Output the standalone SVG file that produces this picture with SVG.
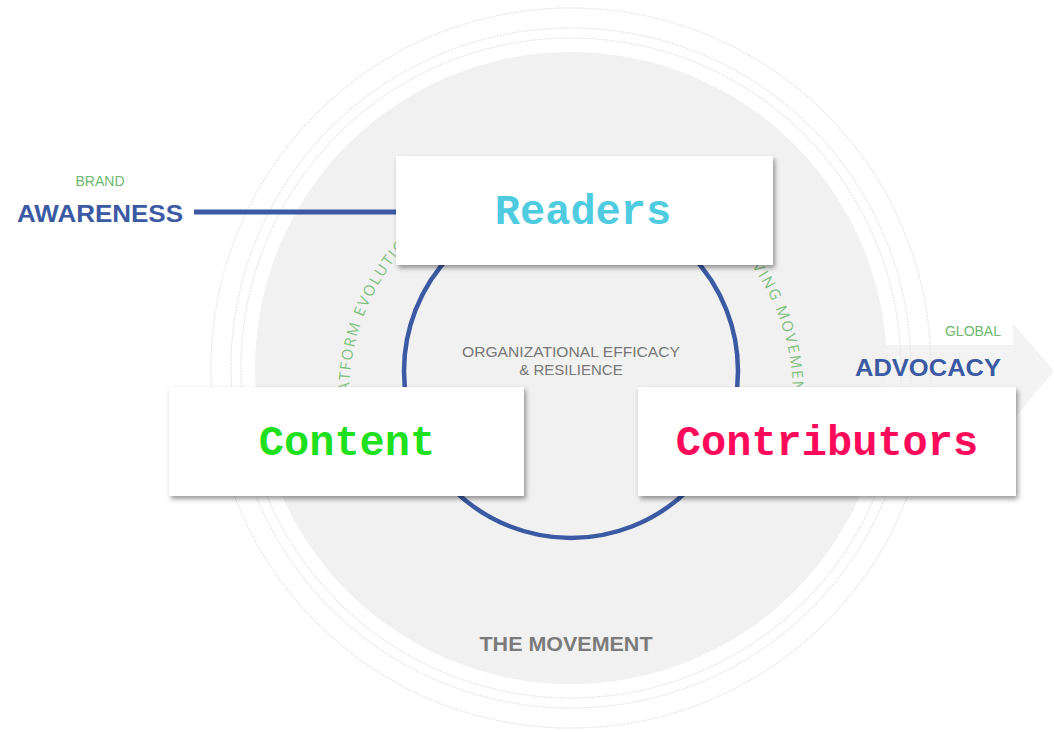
<svg xmlns="http://www.w3.org/2000/svg" width="1054" height="732" viewBox="0 0 1054 732">
<style>
.sans{font-family:"Liberation Sans","Open Sans",Arial,sans-serif}
.hd{font-weight:bold;fill:#3b5aa3;font-size:24px}
.sub{fill:#6db86d;font-size:14px}
.arc{font-family:"Open Sans","Liberation Sans",sans-serif;font-size:15px;fill:#7fc07f;letter-spacing:1.8px}
.ring{fill:none;stroke:#e6e6e6;stroke-width:1.2;stroke-dasharray:2 1}
.box{fill:#ffffff;filter:url(#sh)}
.lbl{font-family:"Liberation Mono","Courier New",monospace;font-weight:bold;font-size:42px;text-anchor:middle}
</style>
<defs>
<filter id="sh" x="-10%" y="-10%" width="125%" height="135%">
<feDropShadow dx="2" dy="3" stdDeviation="2.5" flood-color="#000" flood-opacity="0.4"/>
</filter>
<path id="arcL" d="M349.7 412.4 A222 222 0 0 1 460 202.7"/>
<path id="arcR" d="M751.7 266.1 A222 222 0 0 1 779.6 470.9"/>
</defs>
<rect width="1054" height="732" fill="#ffffff"/>
<g id="background">
<polygon points="860,345 1013,345 1013,323 1054,371 1013,420 1013,400 860,400" fill="#f3f3f3"/>
<circle cx="571" cy="368" r="360" class="ring"/>
<circle cx="571" cy="368" r="340" class="ring"/>
<circle cx="571" cy="368" r="330" class="ring"/>
<circle cx="571" cy="368" r="316" fill="#f1f1f1"/>
<text x="566" y="651" class="sans" font-weight="bold" font-size="21" fill="#7b7b7b" text-anchor="middle" textLength="173" lengthAdjust="spacingAndGlyphs">THE MOVEMENT</text>
</g>
<g id="core">
<circle cx="571" cy="371" r="167" fill="none" stroke="#3b5aa3" stroke-width="4.5"/>
<text class="sans" font-size="15" fill="#777" text-anchor="middle"><tspan x="571" y="357" textLength="218" lengthAdjust="spacingAndGlyphs">ORGANIZATIONAL EFFICACY</tspan><tspan x="571" y="375">&amp; RESILIENCE</tspan></text>
<text class="arc"><textPath href="#arcL">PLATFORM EVOLUTION</textPath></text>
<text class="arc"><textPath href="#arcR">VING MOVEMENT</textPath></text>
</g>
<g id="awareness">
<text x="100" y="186" class="sans sub" text-anchor="middle">BRAND</text>
<text x="17" y="222" class="sans hd" textLength="166" lengthAdjust="spacingAndGlyphs">AWARENESS</text>
</g>
<g id="advocacy">
<text x="1001" y="336" class="sans sub" text-anchor="end">GLOBAL</text>
<text x="855" y="376" class="sans hd" textLength="146" lengthAdjust="spacingAndGlyphs">ADVOCACY</text>
</g>
<g id="connectors">
<line x1="194" y1="212" x2="396" y2="212" stroke="#3b5aa3" stroke-width="5"/>
</g>
<g id="readers">
<rect x="396" y="156" width="377" height="109" class="box"/>
<text x="583" y="224" class="lbl" fill="#4ecbdf">Readers</text>
</g>
<g id="content">
<rect x="169" y="387" width="355" height="109" class="box"/>
<text x="347" y="455" class="lbl" fill="#1ee01e">Content</text>
</g>
<g id="contributors">
<rect x="638" y="387" width="378" height="109" class="box"/>
<text x="827" y="455" class="lbl" fill="#ff0a5a">Contributors</text>
</g>
</svg>
